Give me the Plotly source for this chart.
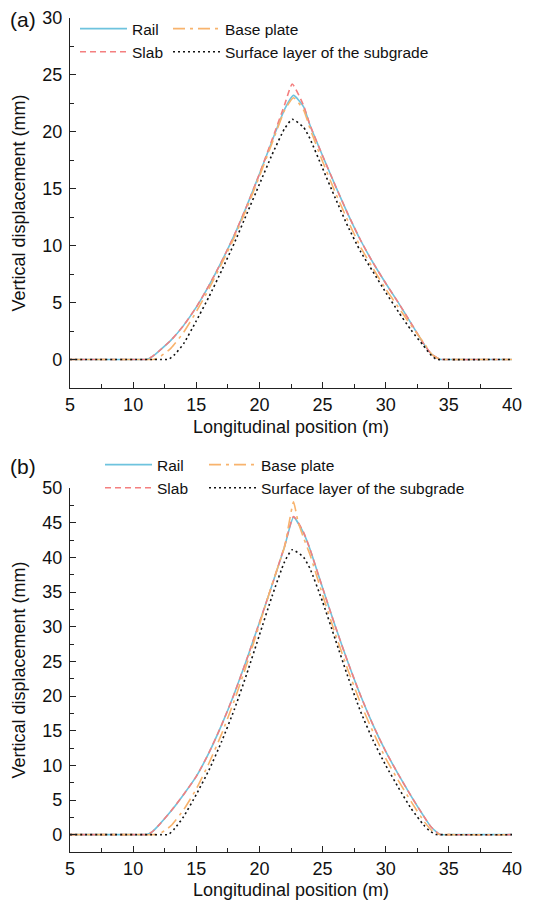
import plotly.graph_objects as go

# ---------------- Data (a) ----------------
a_rail_x = [5, 10, 10.6, 11.1, 11.5, 12, 13, 14, 15, 16, 17, 18, 19, 20, 21, 22, 22.7, 23.5, 24, 25, 26, 27, 28, 29, 30, 31, 32, 33, 33.6, 34.3, 35, 40]
a_rail_y = [0, 0, 0, 0.02, 0.25, 0.7, 1.7, 3.0, 4.6, 6.5, 8.6, 10.9, 13.5, 16.3, 19.2, 22.0, 23.2, 22.2, 20.6, 17.9, 15.3, 12.8, 10.5, 8.5, 6.7, 5.0, 3.2, 1.4, 0.5, 0.02, 0, 0]

a_slab_x = [5, 10, 10.6, 11.1, 11.5, 12, 13, 14, 15, 16, 17, 18, 19, 20, 21, 22, 22.6, 23.5, 24, 25, 26, 27, 28, 29, 30, 31, 32, 33, 33.6, 34.3, 35, 40]
a_slab_y = [0, 0, 0, 0.02, 0.25, 0.7, 1.7, 3.0, 4.6, 6.5, 8.6, 10.9, 13.5, 16.3, 19.3, 22.4, 24.2, 22.3, 20.6, 17.9, 15.3, 12.8, 10.5, 8.5, 6.7, 5.0, 3.2, 1.4, 0.5, 0.02, 0, 0]

a_base_x = [5, 10.5, 11.2, 11.7, 12.2, 13, 14, 15, 16, 17, 18, 19, 20, 21, 22, 22.7, 23.5, 24, 25, 26, 27, 28, 29, 30, 31, 32, 33, 33.7, 34.3, 35, 40]
a_base_y = [0, 0, 0, 0.02, 0.3, 1.0, 2.4, 4.2, 6.2, 8.4, 10.7, 13.3, 16.1, 19.0, 21.9, 23.0, 21.9, 20.3, 17.4, 14.7, 12.2, 9.9, 8.0, 6.2, 4.6, 3.0, 1.5, 0.4, 0.02, 0, 0]

a_surf_x = [5, 11.5, 12.2, 12.8, 13.3, 14, 15, 16, 17, 18, 19, 20, 21, 22, 22.6, 23.5, 24, 25, 26, 27, 28, 29, 30, 31, 32, 33, 33.5, 34, 34.6, 40]
a_surf_y = [0, 0, 0, 0.02, 0.45, 1.4, 3.4, 5.5, 7.8, 10.2, 12.8, 15.4, 18.0, 20.3, 21.1, 20.4, 19.4, 16.8, 14.2, 11.7, 9.5, 7.7, 5.9, 4.2, 2.6, 1.2, 0.5, 0.02, 0, 0]

# ---------------- Data (b) ----------------
b_rail_x = [5, 10, 10.6, 11.1, 11.5, 12, 13, 14, 15, 16, 17, 18, 19, 20, 21, 22, 22.7, 23.5, 24, 25, 26, 27, 28, 29, 30, 31, 32, 33, 33.6, 34.3, 35, 40]
b_rail_y = [0, 0, 0, 0.03, 0.4, 1.3, 3.4, 5.8, 8.4, 11.8, 15.8, 20.3, 25.3, 30.6, 36.0, 41.6, 45.8, 43.5, 41.2, 35.6, 30.1, 24.9, 20.1, 15.8, 12.0, 8.7, 5.6, 2.7, 1.1, 0.03, 0, 0]

b_slab_x = [5, 10, 10.6, 11.1, 11.5, 12, 13, 14, 15, 16, 17, 18, 19, 20, 21, 22, 22.7, 23.5, 24, 25, 26, 27, 28, 29, 30, 31, 32, 33, 33.6, 34.3, 35, 40]
b_slab_y = [0, 0, 0, 0.03, 0.4, 1.3, 3.4, 5.8, 8.4, 11.8, 15.8, 20.3, 25.3, 30.6, 36.0, 41.7, 45.9, 43.6, 41.2, 35.6, 30.1, 24.9, 20.1, 15.8, 12.0, 8.7, 5.6, 2.7, 1.1, 0.03, 0, 0]

b_base_x = [5, 10.8, 11.5, 12, 12.5, 13, 14, 15, 16, 17, 18, 19, 20, 21, 22, 22.35, 22.7, 23.05, 23.5, 24, 25, 26, 27, 28, 29, 30, 31, 32, 33, 33.7, 34.3, 35, 40]
b_base_y = [0, 0, 0, 0.05, 0.6, 1.3, 3.6, 6.6, 10.3, 14.5, 19.3, 24.6, 30.3, 36.1, 41.6, 45.0, 48.0, 45.2, 42.8, 40.4, 34.6, 29.0, 23.8, 19.0, 14.8, 11.0, 7.8, 4.8, 2.0, 0.5, 0.03, 0, 0]

b_surf_x = [5, 11.5, 12.2, 12.8, 13.3, 14, 15, 16, 17, 18, 19, 20, 21, 22, 22.6, 23.5, 24, 25, 26, 27, 28, 29, 30, 31, 32, 33, 33.5, 34, 34.6, 40]
b_surf_y = [0, 0, 0, 0.03, 0.9, 2.6, 5.8, 9.3, 13.4, 18.0, 23.2, 28.8, 34.4, 39.4, 41.1, 40.0, 38.4, 33.6, 28.2, 22.8, 17.8, 13.6, 10.0, 6.8, 3.8, 1.4, 0.5, 0.03, 0, 0]

x_ticks = [5, 10, 15, 20, 25, 30, 35, 40]

names = ["Rail", "Slab", "Base plate", "Surface layer of the subgrade"]
colors = ["#6ec3de", "#f47f7f", "#f8b36d", "#111111"]
dashes = ["solid", "6px,4px", "12px,5px,3px,5px", "2px,3px"]
x_title = "Longitudinal position (m)"
y_title = "Vertical displacement (mm)"

FONT = "Liberation Sans, Arial, sans-serif"

fig = go.Figure()

def add(x, y, i, xa, ya, legend):
    fig.add_trace(go.Scatter(
        x=x, y=y, mode="lines", name=names[i],
        line=dict(color=colors[i], width=1.6, dash=dashes[i], shape="spline", smoothing=0.5),
        xaxis=xa, yaxis=ya, legend=legend, showlegend=True,
    ))

add(a_rail_x, a_rail_y, 0, "x", "y", "legend")
add(a_slab_x, a_slab_y, 1, "x", "y", "legend")
add(a_base_x, a_base_y, 2, "x", "y", "legend2")
add(a_surf_x, a_surf_y, 3, "x", "y", "legend2")
add(b_rail_x, b_rail_y, 0, "x2", "y2", "legend3")
add(b_slab_x, b_slab_y, 1, "x2", "y2", "legend3")
add(b_base_x, b_base_y, 2, "x2", "y2", "legend4")
add(b_surf_x, b_surf_y, 3, "x2", "y2", "legend4")

# The page adds an 8px body margin; size the figure to fit inside the window.
OFF = 8
W, H = 535 - 2 * OFF, 909 - 2 * OFF
ml, mr, mt, mb = 70 - OFF, W - (512 - OFF), 2, H - (852 - OFF)
pw, ph = W - ml - mr, H - mt - mb

def py(p):  # reference page pixel y -> paper
    return (H - mb - (p - OFF)) / ph

def px(p):  # reference page pixel x -> paper
    return ((p - OFF) - ml) / pw

axis_common = dict(
    showline=True, linecolor="#222", linewidth=1.3, mirror=False,
    ticks="inside", ticklen=6, tickwidth=1.3, tickcolor="#222",
    showgrid=False, zeroline=False, automargin=False,
    tickfont=dict(family=FONT, size=18, color="#111"),
    title_font=dict(family=FONT, size=18, color="#111"),
)
minor_common = dict(ticks="inside", ticklen=3.5, tickwidth=1.1, tickcolor="#222", dtick=2.5)
xaxis_common = dict(axis_common, range=[5, 40], tickvals=x_ticks,
                    minor=dict(minor_common, tick0=5))
yaxis_common = dict(axis_common, tick0=0, dtick=5, minor=dict(minor_common, tick0=0),
                    ticklabelstandoff=3, title_text=y_title, title_standoff=11)

leg_common = dict(font=dict(family=FONT, size=15.5, color="#111"), bgcolor="rgba(0,0,0,0)",
                  itemwidth=47, tracegroupgap=0, xanchor="left", yanchor="top", orientation="v")

fig.update_layout(
    width=W, height=H, paper_bgcolor="white", plot_bgcolor="white",
    margin=dict(l=ml, r=mr, t=mt, b=mb, autoexpand=False),
    xaxis=dict(xaxis_common, domain=[0, 1], anchor="y", title_text=x_title, title_standoff=6),
    yaxis=dict(yaxis_common, domain=[py(388), py(18)], anchor="x", range=[-2.5, 30]),
    xaxis2=dict(xaxis_common, domain=[0, 1], anchor="y2"),
    yaxis2=dict(yaxis_common, domain=[0, py(488)], anchor="x2", range=[-2.5, 50]),
    legend=dict(leg_common, x=px(75), y=py(12)),
    legend2=dict(leg_common, x=px(168), y=py(12)),
    legend3=dict(leg_common, x=px(100), y=py(448)),
    legend4=dict(leg_common, x=px(204), y=py(448)),
    showlegend=True,
)
fig.add_annotation(text=x_title, x=0.5, y=py(890), xref="paper", yref="paper", showarrow=False,
                   font=dict(family=FONT, size=18, color="#111"), xanchor="center", yanchor="middle")
fig.add_annotation(text="(a)", x=px(8), y=py(19), xref="paper", yref="paper", showarrow=False,
                   font=dict(family=FONT, size=21, color="#111"), xanchor="left", yanchor="middle")
fig.add_annotation(text="(b)", x=px(8), y=py(467), xref="paper", yref="paper", showarrow=False,
                   font=dict(family=FONT, size=21, color="#111"), xanchor="left", yanchor="middle")

fig.write_html("out.html")
